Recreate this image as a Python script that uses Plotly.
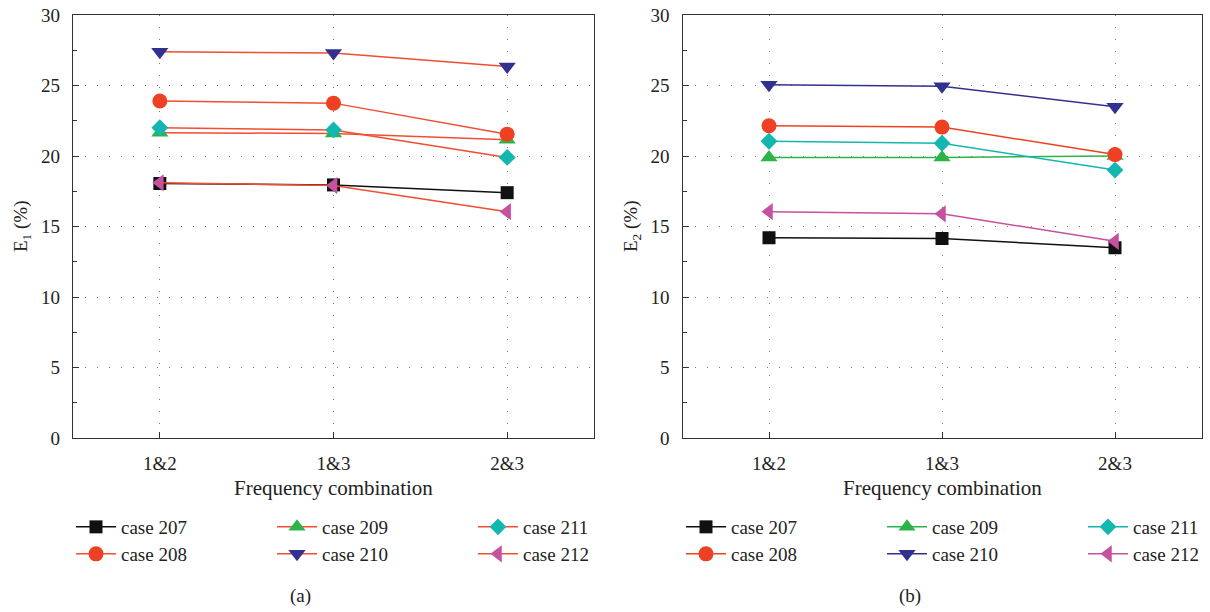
import plotly.graph_objects as go

# Frequency combinations on the x axis
combos = ["1&2", "1&3", "2&3"]

cases = ["case 207", "case 208", "case 209", "case 210", "case 211", "case 212"]

# E1 (%) per case, panel (a)
e1_207 = [18.05, 17.95, 17.4]
e1_208 = [23.9, 23.75, 21.55]
e1_209 = [21.65, 21.6, 21.15]
e1_210 = [27.4, 27.3, 26.35]
e1_211 = [22.0, 21.85, 19.9]
e1_212 = [18.1, 17.9, 16.05]

# E2 (%) per case, panel (b)
e2_207 = [14.2, 14.15, 13.5]
e2_208 = [22.15, 22.05, 20.1]
e2_209 = [19.9, 19.9, 20.0]
e2_210 = [25.05, 24.95, 23.5]
e2_211 = [21.05, 20.9, 19.0]
e2_212 = [16.05, 15.9, 13.95]

e1 = [e1_207, e1_208, e1_209, e1_210, e1_211, e1_212]
e2 = [e2_207, e2_208, e2_209, e2_210, e2_211, e2_212]

symbols = ["square", "circle", "triangle-up", "triangle-down", "diamond", "triangle-left"]
sizes = [13, 15, 15, 15, 13, 15]
colors = ["#111111", "#EE4123", "#2DB34A", "#33318F", "#14B6B0", "#C5519F"]
red_line = "#F04E30"
line_a = ["#111111", red_line, red_line, red_line, red_line, red_line]
line_b = colors

SERIF = "Liberation Serif, Times New Roman, DejaVu Serif, serif"
W, H = 1210, 612

fig = go.Figure()

# legend rows: first row holds 207/209/211, second row 208/210/212
row_of = [0, 1, 0, 1, 0, 1]
order = [0, 2, 4, 1, 3, 5]

for i in order:
    fig.add_trace(go.Scatter(
        x=combos, y=e1[i], mode="lines+markers", name=cases[i],
        line=dict(color=line_a[i], width=1.5),
        marker=dict(symbol=symbols[i], size=sizes[i], color=colors[i], line=dict(width=0)),
        xaxis="x", yaxis="y",
        legend="legend" if row_of[i] == 0 else "legend2",
    ))
for i in order:
    fig.add_trace(go.Scatter(
        x=combos, y=e2[i], mode="lines+markers", name=cases[i],
        line=dict(color=line_b[i], width=1.5),
        marker=dict(symbol=symbols[i], size=sizes[i], color=colors[i], line=dict(width=0)),
        xaxis="x2", yaxis="y2",
        legend="legend3" if row_of[i] == 0 else "legend4",
    ))

tickfont = dict(family=SERIF, size=19, color="#222222")
grid = dict(showgrid=True, gridcolor="#7a7a7a", gridwidth=1.3, griddash="1.3px,10.7px")


def xax(domain, anchor):
    return dict(
        domain=domain, anchor=anchor, type="category", categoryorder="array", categoryarray=combos,
        range=[-0.5, 2.5], showline=True, linecolor="#333333", linewidth=1.4, mirror=True,
        ticks="inside", ticklen=6, tickcolor="#333333", tickfont=tickfont,
        ticklabelstandoff=8, zeroline=False, fixedrange=True, **grid,
    )


def yax(domain, anchor):
    return dict(
        domain=domain, anchor=anchor, range=[0, 30], dtick=5, tick0=0,
        showline=True, linecolor="#333333", linewidth=1.4, mirror=True,
        ticks="inside", ticklen=6, tickcolor="#333333", tickfont=tickfont,
        ticklabelstandoff=8, zeroline=False,
        minor=dict(dtick=2.5, ticks="inside", ticklen=4, tickcolor="#333333", showgrid=False),
        **grid,
    )


ydom = [1 - 438 / H, 1 - 15 / H]
xdom_a = [73 / W, 594 / W]
xdom_b = [682.5 / W, 1201.5 / W]

legend_common = dict(
    orientation="h", font=dict(family=SERIF, size=19, color="#222222"),
    itemwidth=40, entrywidth=146, entrywidthmode="pixels",
    xanchor="left", yanchor="middle", bgcolor="rgba(0,0,0,0)", tracegroupgap=0,
    itemclick=False, itemdoubleclick=False,
)

fig.update_layout(
    width=W, height=H, margin=dict(l=0, r=0, t=0, b=0, autoexpand=False),
    paper_bgcolor="white", plot_bgcolor="white",
    xaxis=xax(xdom_a, "y"), yaxis=yax(ydom, "x"),
    xaxis2=xax(xdom_b, "y2"), yaxis2=yax(ydom, "x2"),
    legend=dict(x=71 / W, y=1 - 527 / H, **legend_common),
    legend2=dict(x=71 / W, y=1 - 554 / H, **legend_common),
    legend3=dict(x=681 / W, y=1 - 527 / H, **legend_common),
    legend4=dict(x=681 / W, y=1 - 554 / H, **legend_common),
)

labfont = dict(family=SERIF, size=21, color="#222222")
ann = [
    dict(text="Frequency combination", x=333.5 / W, y=1 - 488 / H, font=labfont),
    dict(text="Frequency combination", x=942 / W, y=1 - 488 / H, font=labfont),
    dict(text="E<sub>1</sub> (%)", x=22 / W, y=1 - 226 / H, font=dict(family=SERIF, size=19, color="#222222"), textangle=-90),
    dict(text="E<sub>2</sub> (%)", x=632 / W, y=1 - 226 / H, font=dict(family=SERIF, size=19, color="#222222"), textangle=-90),
    dict(text="(a)", x=300 / W, y=1 - 596 / H, font=dict(family=SERIF, size=19, color="#222222")),
    dict(text="(b)", x=910 / W, y=1 - 596 / H, font=dict(family=SERIF, size=19, color="#222222")),
]
for a in ann:
    fig.add_annotation(xref="paper", yref="paper", showarrow=False,
                       xanchor="center", yanchor="middle", **a)

fig.write_html("out.html")
